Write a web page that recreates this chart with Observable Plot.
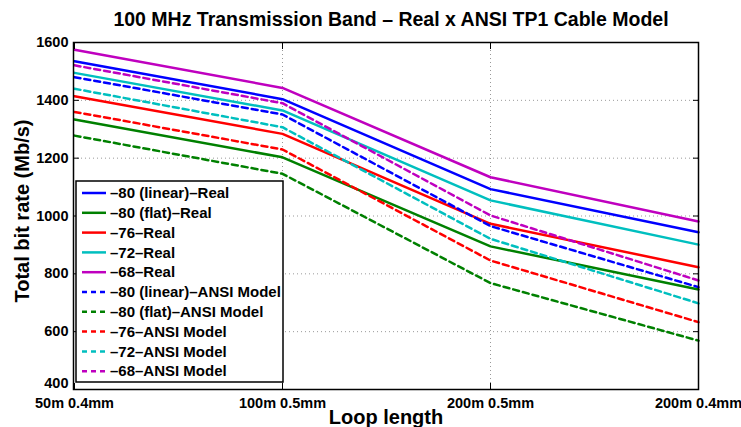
<!DOCTYPE html>
<html>
<head>
<meta charset="utf-8">
<script src="https://cdn.jsdelivr.net/npm/d3@7"></script>
<script src="https://cdn.jsdelivr.net/npm/@observablehq/plot@0.6"></script>
<style>
  html, body { margin: 0; padding: 0; background: #fff; }
  #chart { position: relative; width: 741px; height: 427px; }
  svg { font-family: "Liberation Sans", Arial, Helvetica, sans-serif; }
</style>
</head>
<body>
<div id="chart"></div>
<script>
// ---- data ----
const loopLabels = ["50m 0.4mm", "100m 0.5mm", "200m 0.5mm", "200m 0.4mm"];
const yTicks = [400, 600, 800, 1000, 1200, 1400, 1600];

const real80linear = [1535, 1404, 1093, 944];
const real80flat   = [1334, 1203, 895, 746];
const real76       = [1414, 1284, 973, 823];
const real72       = [1495, 1365, 1054, 901];
const real68       = [1575, 1443, 1134, 981];
const ansi80linear = [1480, 1351, 965, 754];
const ansi80flat   = [1278, 1146, 768, 569];
const ansi76       = [1360, 1230, 846, 633];
const ansi72       = [1440, 1307, 921, 698];
const ansi68       = [1521, 1390, 1002, 777];

const seriesNames = [
  "–80 (linear)–Real", "–80 (flat)–Real", "–76–Real", "–72–Real", "–68–Real",
  "–80 (linear)–ANSI Model", "–80 (flat)–ANSI Model", "–76–ANSI Model", "–72–ANSI Model", "–68–ANSI Model"
];
const seriesValues = [real80linear, real80flat, real76, real72, real68,
                      ansi80linear, ansi80flat, ansi76, ansi72, ansi68];
const seriesColors = ["#0000ff", "#008000", "#ff0000", "#00bfbf", "#bf00bf",
                      "#0000ff", "#008000", "#ff0000", "#00bfbf", "#bf00bf"];
const seriesDashed = [false, false, false, false, false, true, true, true, true, true];

const titleText = "100 MHz Transmission Band – Real x ANSI TP1 Cable Model";
const xLabel = "Loop length";
const yLabel = "Total bit rate (Mb/s)";

// ---- build ----
const font = "Liberation Sans, Arial, Helvetica, sans-serif";
const lineMarks = seriesNames.map((name, k) =>
  Plot.line(loopLabels.map((l, i) => ({loop: l, rate: seriesValues[k][i]})), {
    x: "loop", y: "rate",
    stroke: seriesColors[k], strokeWidth: 2.5,
    strokeDasharray: seriesDashed[k] ? "6,4" : null
  })
);

const yTickStyle = {anchor: "left", tickSize: -6, tickPadding: 11, tickFormat: d => String(d),
  fontSize: 14.5, fontWeight: "bold", fill: "#000", stroke: "#000", label: null};

const chart = Plot.plot({
  width: 741, height: 427,
  marginLeft: 73, marginRight: 43, marginTop: 42, marginBottom: 38,
  style: {fontFamily: font, background: "#fff"},
  x: {type: "point", domain: loopLabels, padding: 0, label: null},
  y: {domain: [400, 1600], label: null},
  marks: [
    Plot.gridY(yTicks.slice(1, -1), {stroke: "#000", strokeOpacity: 0.4, strokeDasharray: "1,3", strokeWidth: 1}),
    Plot.gridX(loopLabels.slice(1, -1), {stroke: "#000", strokeOpacity: 0.4, strokeDasharray: "1,3", strokeWidth: 1}),
    ...lineMarks,
    Plot.frame({stroke: "#000", strokeWidth: 1.5}),
    Plot.axisY(yTicks.slice(1), yTickStyle),
    Plot.axisY(yTicks.slice(0, 1), {...yTickStyle, tickSize: 0, tickPadding: 5, dy: -6}),
    Plot.axisY(yTicks, {anchor: "right", tickSize: -6, tickFormat: () => "", label: null, stroke: "#000"}),
    Plot.axisX(loopLabels, {anchor: "bottom", tickSize: -6, tickPadding: 14, fontSize: 14.5, fontWeight: "bold", fill: "#000", stroke: "#000", label: null}),
    Plot.axisX(loopLabels, {anchor: "top", tickSize: -6, tickFormat: () => "", label: null, stroke: "#000"}),
    Plot.text([titleText], {frameAnchor: "top", dy: -23, dx: 5, fontSize: 19.5, fontWeight: "bold", fill: "#000", textAnchor: "middle", lineAnchor: "middle"}),
    Plot.text([xLabel], {frameAnchor: "bottom", dy: 28, fontSize: 20, fontWeight: "bold", fill: "#000", textAnchor: "middle", lineAnchor: "middle"}),
    Plot.text([yLabel], {frameAnchor: "left", dx: -51, dy: -5, rotate: -90, fontSize: 20, fontWeight: "bold", fill: "#000", textAnchor: "middle", lineAnchor: "middle"})
  ]
});
document.getElementById("chart").appendChild(chart);

// ---- legend (inside the axes, lower left) ----
const svg = d3.select(chart);
const lg = svg.append("g").attr("class", "legend").attr("text-anchor", "start");
const lx = 76, ly = 181, lw = 207, lh = 201, rowH = 19.8, row0 = 193;
lg.append("rect").attr("x", lx).attr("y", ly).attr("width", lw).attr("height", lh)
  .attr("fill", "#fff").attr("stroke", "#000").attr("stroke-width", 1.5);
seriesNames.forEach((name, k) => {
  const y = row0 + k * rowH;
  lg.append("line").attr("x1", lx + 6).attr("x2", lx + 30).attr("y1", y).attr("y2", y)
    .attr("stroke", seriesColors[k]).attr("stroke-width", 2.5)
    .attr("stroke-dasharray", seriesDashed[k] ? "5,4" : null);
  lg.append("text").attr("x", lx + 34).attr("y", y).attr("dy", "0.35em")
    .attr("text-anchor", "start")
    .attr("font-size", 15).attr("font-weight", "bold").attr("fill", "#000")
    .attr("font-family", font).text(name);
});
</script>
</body>
</html>
